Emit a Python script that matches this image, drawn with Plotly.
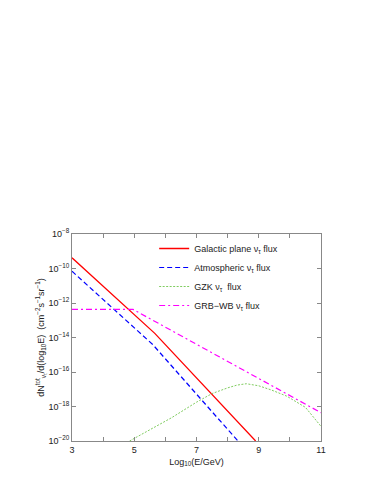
"""Flujo de neutrinos tau por fuente, reproducido con Plotly."""
import plotly.graph_objects as go

# Datos: log10(E/GeV) y log10 del flujo
gal_E = [3.0, 5.66, 8.9]
gal_logflux = [-9.38, -13.76, -20.0]

atm_E = [3.0, 5.6, 8.33]
atm_logflux = [-10.16, -14.42, -20.0]

gzk_E = [4.85, 5.5, 6.2, 7.0, 7.5, 8.0, 8.3, 8.6, 9.0, 9.4, 9.9, 10.5, 11.0]
gzk_logflux = [-20.0, -19.35, -18.65, -17.75, -17.25, -16.92, -16.76, -16.68,
               -16.8, -17.04, -17.4, -18.05, -19.15]

grb_E = [3.0, 4.96, 11.0]
grb_logflux = [-12.37, -12.37, -18.36]

x_ticks = [3, 4, 5, 6, 7, 8, 9, 10, 11]
x_labels = ["3", "", "5", "", "7", "", "9", "", "11"]
y_exps = [-20, -18, -16, -14, -12, -10, -8]

# nombre, x, y, color, patrón de trazo, grosor
series = [
    ("Galactic plane ν<sub>τ</sub> flux", gal_E, gal_logflux, "#ff0000", "solid", 1.3),
    ("Atmospheric ν<sub>τ</sub> flux", atm_E, atm_logflux, "#0000ff", "5px,3px", 1.2),
    ("GZK ν<sub>τ</sub>  flux", gzk_E, gzk_logflux, "#80cc60", "2px,1.5px", 1.0),
    ("GRB−WB ν<sub>τ</sub> flux", grb_E, grb_logflux, "#ff00ff", "6px,3px,2px,3px", 1.2),
]

fig = go.Figure()
for name, xs, ys, color, dash, width in series:
    fig.add_trace(go.Scatter(
        x=xs,
        y=[10 ** v for v in ys],
        mode="lines",
        name=name,
        line=dict(color=color, dash=dash, width=width),
    ))

axis_style = dict(
    showline=True,
    linecolor="#888888",
    linewidth=1,
    mirror="ticks",
    ticks="inside",
    ticklen=4,
    tickcolor="#888888",
    showgrid=False,
    zeroline=False,
    tickfont=dict(size=9, color="#222222"),
)

fig.update_xaxes(
    range=[3, 11],
    tickvals=x_ticks,
    ticktext=x_labels,
    title=dict(text="Log<sub>10</sub>(E/GeV)", font=dict(size=9, color="#222222"), standoff=4),
    **axis_style,
)
fig.update_yaxes(
    type="log",
    range=[-20, -8],
    tickvals=[10 ** e for e in y_exps],
    ticktext=[f"10<sup>−{abs(e)}</sup>" for e in y_exps],
    title=dict(
        text="dN<sup>tot</sup><sub>ν<sub>τ</sub></sub>/d(log<sub>10</sub>E)  (cm<sup>−2</sup>s<sup>−1</sup>sr<sup>−1</sup>)",
        font=dict(size=9, color="#222222"),
        standoff=2,
    ),
    **axis_style,
)

fig.update_layout(
    width=378,
    height=489,
    margin=dict(l=64, r=65, t=226, b=56),
    paper_bgcolor="white",
    plot_bgcolor="white",
    font=dict(family="Liberation Sans, Arial, sans-serif", size=9, color="#222222"),
    showlegend=True,
    legend=dict(
        x=0.33,
        y=1.0,
        xanchor="left",
        yanchor="top",
        bgcolor="rgba(0,0,0,0)",
        font=dict(size=9),
        tracegroupgap=0,
    ),
)

fig.write_html("out.html")
